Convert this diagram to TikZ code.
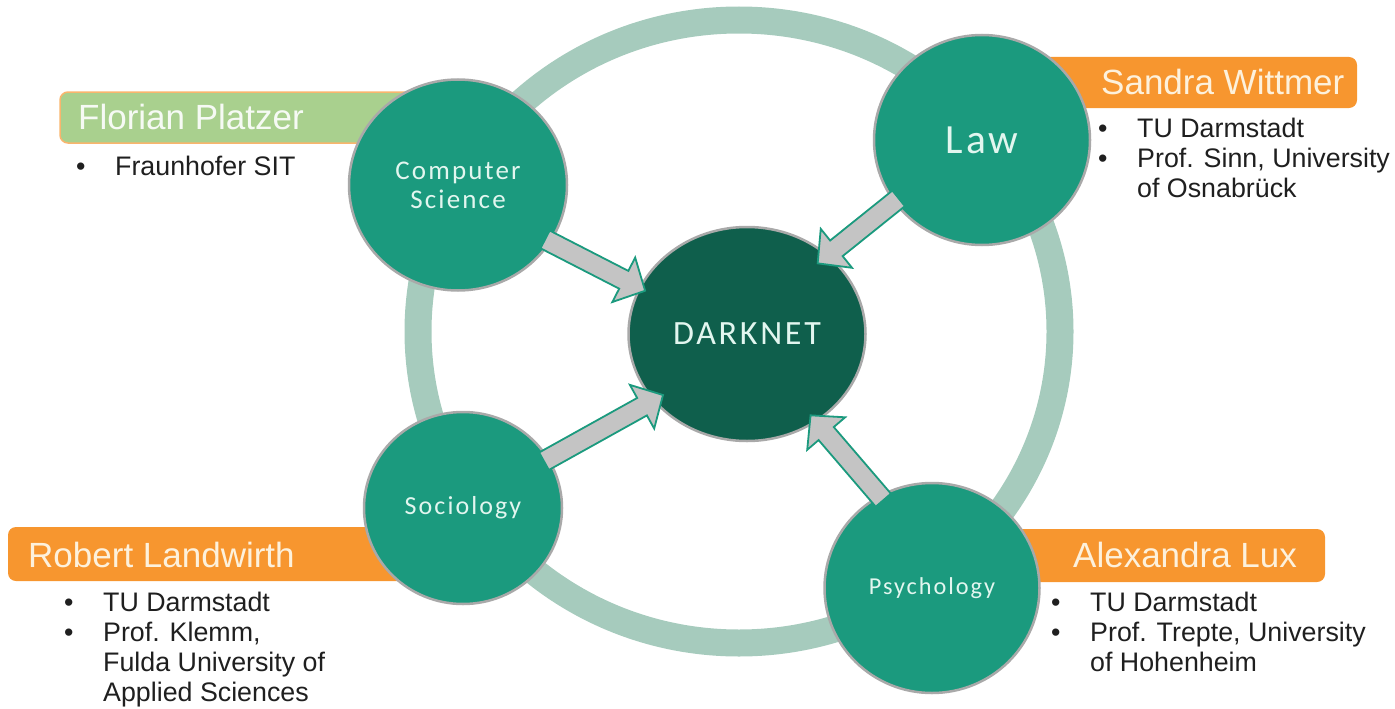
\documentclass[tikz,border=0pt]{standalone}
\usepackage{fontspec}
\setmainfont{Liberation Sans}
\newfontfamily\discfont[LetterSpace=8]{Carlito}
\usetikzlibrary{calc,shapes.geometric}

\definecolor{ringgreen}{HTML}{A6CBBD}
\definecolor{discteal}{HTML}{1B9A7E}
\definecolor{darkteal}{HTML}{0F5F4C}
\definecolor{rimgray}{HTML}{A9A9A9}
\definecolor{tagorange}{HTML}{F7962F}
\definecolor{taggreen}{HTML}{A9D08E}
\definecolor{tagtext}{HTML}{FDF1DC}
\definecolor{arrowgray}{HTML}{C4C4C4}
\definecolor{disctext}{HTML}{E2F6EF}

\tikzset{
  disc/.style={ellipse, fill=discteal, draw=rimgray, line width=2.5pt, text=disctext,
    align=center, inner sep=0pt, font=\discfont\fontsize{27}{29}\selectfont},
  tagbar/.style={fill=tagorange, rounded corners=8pt},
  tagname/.style={anchor=base west, inner sep=0pt, text=tagtext, font=\fontsize{35}{40}\selectfont},
  info/.style={anchor=north west, inner sep=0pt, text=black!88, font=\fontsize{26.8}{30}\selectfont},
  feed/.style={draw=discteal, fill=arrowgray, line width=1.8pt, line join=miter},
}

\begin{document}
\begin{tikzpicture}[x=1pt,y=-1pt]
\useasboundingbox (0,0) rectangle (1395,709);

	% outer ring %
	\draw[ringgreen, line width=27pt] (739,331.5) ellipse [x radius=321, y radius=311.5];

	% name bars %
	\draw[fill=taggreen, draw=tagorange!70, line width=1.5pt, rounded corners=8pt] (60,92) rectangle (420,143);
	\fill[tagbar] (1030,57) rectangle (1357,108);
	\fill[tagbar] (8,527) rectangle (430,581);
	\fill[tagbar] (1000,529) rectangle (1325,582);

	\node[tagname, text=white!90!taggreen] (flname) at (78,129) {Florian Platzer};
	\node[tagname] (swname) at (1101,95) {Sandra Wittmer};
	\node[tagname] (rlname) at (28,567) {Robert Landwirth};
	\node[tagname] (alname) at (1073,567) {Alexandra Lux};

	% affiliations %
	\node[info] (flinfo) at (76,154) {\begin{tabular}{@{}p{39pt}@{}l@{}}
		\textbullet & Fraunhofer SIT\end{tabular}};
	\node[info] (swinfo) at (1098,116) {\begin{tabular}{@{}p{39pt}@{}l@{}}
		\textbullet & TU Darmstadt\\
		\textbullet & Prof. Sinn, University\\
		& of Osnabrück\end{tabular}};
	\node[info] (rlinfo) at (64,590) {\begin{tabular}{@{}p{39pt}@{}l@{}}
		\textbullet & TU Darmstadt\\
		\textbullet & Prof. Klemm,\\
		& Fulda University of\\
		& Applied Sciences\end{tabular}};
	\node[info] (alinfo) at (1051,590) {\begin{tabular}{@{}p{39pt}@{}l@{}}
		\textbullet & TU Darmstadt\\
		\textbullet & Prof. Trepte, University\\
		& of Hohenheim\end{tabular}};

	% disciplines %
	\node[disc, minimum width=218pt, minimum height=211pt] (cs) at (458,185) {Computer\\Science};
	\node[disc, minimum width=216pt, minimum height=210pt] (law) at (982,140) {\fontsize{41.5}{46}\selectfont Law};
	\node[disc, minimum width=198pt, minimum height=192pt] (soc) at (463,508) {\fontsize{26}{29}\selectfont Sociology};
	\node[disc, minimum width=215pt, minimum height=210pt] (psy) at (932,588) {\fontsize{24.3}{26}\selectfont Psychology};

	% centre %
	\node[disc, fill=darkteal, minimum width=237pt, minimum height=214pt] (dark) at (747,334) {\fontsize{34}{36}\selectfont DARKNET};

	% arrows into the centre %
	\foreach \src/\sa/\da/\k in {cs/-32/157/0.94, law/215/45/0.88, soc/30/216/0.9, psy/119/-52/0.92} {
		\coordinate (a) at ($(\src)!0.94!(\src.\sa)$);
		\coordinate (b) at ($(dark)!\k!(dark.\da)$);
		\coordinate (h) at ($(b)!24pt!(a)$);
		\draw[feed] ($(a)!10pt!90:(b)$) -- ($(h)!10pt!90:(b)$) -- ($(h)!25pt!90:(b)$) -- (b)
			-- ($(h)!25pt!-90:(b)$) -- ($(h)!10pt!-90:(b)$) -- ($(a)!10pt!-90:(b)$) -- cycle;
	}

\end{tikzpicture}
\end{document}
